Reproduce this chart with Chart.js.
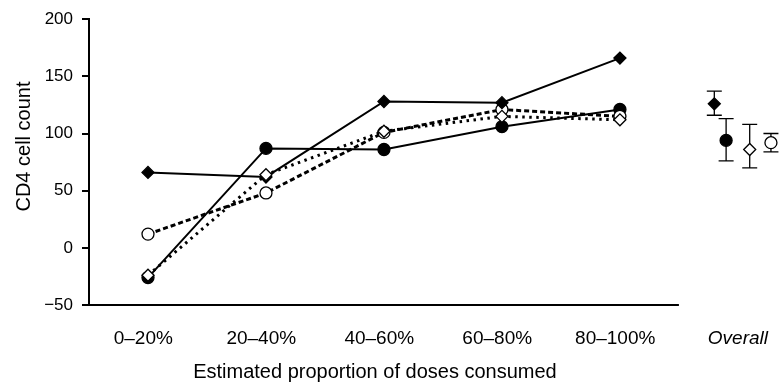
<!DOCTYPE html>
<html>
<head>
<meta charset="utf-8">
<script src="https://cdn.jsdelivr.net/npm/chart.js@4.4.1/dist/chart.umd.min.js"></script>
<style>
  html, body { margin: 0; padding: 0; background: #fff; }
  #wrap { width: 782px; height: 386px; }
</style>
</head>
<body>
<div id="wrap"><canvas id="c" width="782" height="386"></canvas></div>
<script>
// ---- data ----
const categories = ['0\u201320%', '20\u201340%', '40\u201360%', '60\u201380%', '80\u2013100%'];
const overallLabel = 'Overall';
const xTitle = 'Estimated proportion of doses consumed';
const yTitle = 'CD4 cell count';
const yTicks = [-50, 0, 50, 100, 150, 200];

const filledDiamond = [66, 62, 128, 127, 166];
const filledCircle  = [-26, 87, 86, 106, 121];
const openCircle    = [12, 48, 101, 121, 115];
const openDiamond   = [-24, 64, 102, 115, 112];

// overall: [mean, low, high]
const overallFilledDiamond = [126, 116, 137];
const overallFilledCircle  = [94, 76, 113];
const overallOpenDiamond   = [86, 70, 108];
const overallOpenCircle    = [92, 84, 100];

// ---- layout constants ----
const OVERALL_TICK = 5.0;
const TICK_SHIFT = -0.04;
const overallPos = [4.80, 4.90, 5.10, 5.28];
const FONT = '"Liberation Sans", Arial, sans-serif';

const toPts = arr => arr.map((v, i) => ({ x: i, y: v }));

function lineDs(data, style, filled, dash, order) {
  return {
    data: toPts(data),
    borderColor: '#000',
    borderWidth: dash ? 3 : 2,
    borderDash: dash || [],
    pointStyle: style,
    pointRadius: 6,
    pointHoverRadius: 6,
    pointBackgroundColor: filled ? '#000' : '#fff',
    pointBorderColor: '#000',
    pointBorderWidth: 1.3,
    tension: 0,
    fill: false,
    clip: false,
    order: order
  };
}
function overallDs(vals, xpos, style, filled, order) {
  return {
    data: [{ x: xpos, y: vals[0], lo: vals[1], hi: vals[2] }],
    showLine: false,
    isOverall: true,
    pointStyle: style,
    pointRadius: 6,
    pointHoverRadius: 6,
    pointBackgroundColor: filled ? '#000' : '#fff',
    pointBorderColor: '#000',
    pointBorderWidth: 1.3,
    clip: false,
    order: order
  };
}

const errorBars = {
  id: 'errorBars',
  beforeDatasetsDraw(chart) {
    const ctx = chart.ctx, xs = chart.scales.x, ys = chart.scales.y;
    ctx.save();
    ctx.strokeStyle = '#000';
    ctx.lineWidth = 1.3;
    chart.data.datasets.forEach(ds => {
      if (!ds.isOverall) return;
      const p = ds.data[0];
      const x = xs.getPixelForValue(p.x);
      const yl = ys.getPixelForValue(p.lo), yh = ys.getPixelForValue(p.hi);
      ctx.beginPath();
      ctx.moveTo(x, yl); ctx.lineTo(x, yh);
      ctx.moveTo(x - 7.5, yl); ctx.lineTo(x + 7.5, yl);
      ctx.moveTo(x - 7.5, yh); ctx.lineTo(x + 7.5, yh);
      ctx.stroke();
    });
    ctx.restore();
  }
};
const axisExtras = {
  id: 'axisExtras',
  afterDraw(chart) {
    const ctx = chart.ctx, xs = chart.scales.x, ys = chart.scales.y;
    const y = ys.getPixelForValue(yTicks[0]);
    const x0 = xs.getPixelForValue(-0.5), x1 = xs.getPixelForValue(categories.length - 0.5);
    ctx.save();
    ctx.strokeStyle = '#000';
    ctx.lineWidth = 2;
    ctx.beginPath();
    ctx.moveTo(x0 - 1, y);
    ctx.lineTo(x1, y);
    ctx.stroke();
    // axis titles
    ctx.fillStyle = '#000';
    ctx.font = '20px ' + FONT;
    ctx.textAlign = 'center';
    ctx.textBaseline = 'alphabetic';
    ctx.fillText(xTitle, (x0 + x1) / 2 - 9, 378);
    ctx.translate(30, 146.5);
    ctx.rotate(-Math.PI / 2);
    ctx.fillText(yTitle, 0, 0);
    ctx.restore();
  }
};

new Chart(document.getElementById('c'), {
  type: 'scatter',
  data: {
    datasets: [
      lineDs(filledDiamond, 'rectRot', true, null, 1),
      lineDs(filledCircle, 'circle', true, null, 3),
      lineDs(openCircle, 'circle', false, [5, 3], 2),
      lineDs(openDiamond, 'rectRot', false, [2.5, 4.5], 0),
      overallDs(overallFilledDiamond, overallPos[0], 'rectRot', true, 5),
      overallDs(overallFilledCircle, overallPos[1], 'circle', true, 5),
      overallDs(overallOpenDiamond, overallPos[2], 'rectRot', false, 5),
      overallDs(overallOpenCircle, overallPos[3], 'circle', false, 5)
    ]
  },
  options: {
    responsive: false,
    animation: false,
    showLine: true,
    layout: { autoPadding: false, padding: { top: 16, right: 0, left: 0, bottom: 0 } },
    plugins: { legend: { display: false }, tooltip: { enabled: false } },
    scales: {
      x: {
        type: 'linear',
        min: -0.5,
        max: 5.35,
        grid: { display: false },
        border: { display: false },
        afterBuildTicks: s => {
          s.ticks = categories.map((c, i) => ({ value: i + TICK_SHIFT })).concat([{ value: OVERALL_TICK }]);
        },
        afterFit: s => { s.height = 81; },
        ticks: {
          autoSkip: false,
          maxRotation: 0,
          padding: 14,
          color: '#000',
          font: ctx => ({ family: FONT, size: 19, style: (ctx.index === categories.length) ? 'italic' : 'normal' }),
          callback: (v, i) => i < categories.length ? categories[i] : overallLabel
        },
        title: { display: false }
      },
      y: {
        min: yTicks[0],
        max: yTicks[yTicks.length - 1],
        afterBuildTicks: s => { s.ticks = yTicks.map(v => ({ value: v })); },
        afterFit: s => { s.width = 89; },
        grid: { drawOnChartArea: false, drawTicks: true, tickLength: 7, color: '#000', lineWidth: 2 },
        border: { display: true, color: '#000', width: 2 },
        ticks: {
          color: '#000',
          padding: 9,
          font: { family: FONT, size: 17 },
          callback: v => v < 0 ? '\u2212' + Math.abs(v) : String(v)
        },
        title: { display: false }
      }
    }
  },
  plugins: [errorBars, axisExtras]
});
</script>
</body>
</html>
